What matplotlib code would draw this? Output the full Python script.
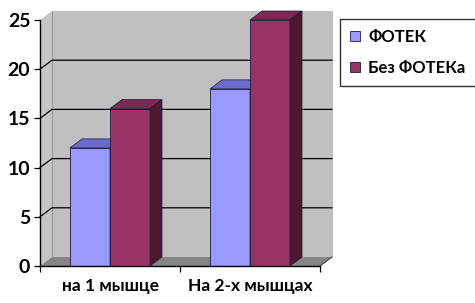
import matplotlib
matplotlib.use("Agg")
import matplotlib.pyplot as plt
from matplotlib.patches import Polygon, Rectangle, Patch
import numpy as np

categories = ["на 1 мышце", "На 2-х мышцах"]
series_names = ["ФОТЕК", "Без ФОТЕКа"]
fotek = [12, 18]
bez_fotek = [16, 25]
y_ticks = [0, 5, 10, 15, 20, 25]

plt.rcParams['font.family'] = ['Lato', 'Open Sans', 'DejaVu Sans']

W, H = 475, 303
fig = plt.figure(figsize=(W / 100, H / 100), dpi=100)
ax = fig.add_axes([40 / W, (H - 266) / H, 280 / W, 246 / H])
ax.set_xlim(0, 2)
ax.set_ylim(0, 25)
ax.set_facecolor('none')

# depth offset in data units (12 px right, 9 px up)
inv = ax.transData.inverted()
p0 = ax.transData.transform((0, 0))
d = inv.transform(p0 + np.array([12, 9])) - inv.transform(p0)
DX, DY = d

def poly(pts, fc, z, ec='none', lw=0):
    p = Polygon(pts, closed=True, facecolor=fc, edgecolor=ec, linewidth=lw,
                zorder=z, clip_on=False)
    ax.add_patch(p)

# walls
poly([(DX, DY), (2 + DX, DY), (2 + DX, 25 + DY), (DX, 25 + DY)], '#C0C0C0', 0.2)
poly([(0, 0), (DX, DY), (DX, 25 + DY), (0, 25)], '#C6C6C6', 0.2)
poly([(0, 0), (2, 0), (2 + DX, DY), (DX, DY)], '#858585', 0.3)
ax.plot([DX, DX], [DY, 25 + DY], color='#9A9A9A', lw=0.8, zorder=0.35, clip_on=False)
ax.plot([2 + DX, 2 + DX], [DY, 25 + DY], color='#B0B0B0', lw=0.6, zorder=0.35, clip_on=False)
ax.plot([2, 2 + DX], [0, DY], color='#404040', lw=0.8, zorder=0.35, clip_on=False)
for v in y_ticks[1:-1]:
    ax.plot([0, DX, 2 + DX], [v, v + DY, v + DY], color='black', lw=0.9,
            zorder=0.4, clip_on=False)

# bars
w = 0.2857
xc = np.arange(len(categories)) + 0.5
specs = [
    (xc - w, fotek, '#9999FF', '#6B6BCC', '#5252A8', 2),
    (xc, bez_fotek, '#993366', '#7A2950', '#4E1832', 3),
]
for xs, vals, face, top, side, z in specs:
    ax.bar(xs, vals, width=w, align='edge', color=face, edgecolor='#1a1a40',
           linewidth=0.6, zorder=z)
    for x, h in zip(xs, vals):
        poly([(x, h), (x + w, h), (x + w + DX, h + DY), (x + DX, h + DY)], top, z,
             ec='#1a1a30', lw=0.5)
        poly([(x + w, 0), (x + w + DX, DY), (x + w + DX, h + DY), (x + w, h)], side, z,
             ec='#1a1a30', lw=0.5)

# axes styling
for s in ['top', 'right']:
    ax.spines[s].set_visible(False)
for s in ['left', 'bottom']:
    ax.spines[s].set_color('black')
    ax.spines[s].set_linewidth(1.0)
    ax.spines[s].set_zorder(5)
ax.set_yticks(y_ticks)
ax.set_yticklabels([str(t) for t in y_ticks], fontsize=14, fontweight='bold')
ax.tick_params(axis='y', length=4, width=0.9, pad=3, colors='black')
ax.set_xticks([0, 1, 2])
ax.set_xticklabels([])
ax.set_xticks(xc, minor=True)
ax.set_xticklabels(categories, minor=True, fontsize=12.5, fontweight='bold')
ax.tick_params(axis='x', which='major', length=4, width=0.9)
ax.tick_params(axis='x', which='minor', length=0, pad=9)

handles = [Patch(facecolor='#9999FF', edgecolor='#1a1a40', linewidth=0.6),
           Patch(facecolor='#993366', edgecolor='#1a1a40', linewidth=0.6)]
leg = fig.legend(handles, series_names, loc='upper left',
                 bbox_to_anchor=(340 / W, 1 - 19 / H), frameon=True, fancybox=False,
                 edgecolor='black', prop={'size': 12, 'weight': 'bold'},
                 handlelength=0.6, handleheight=0.6, handletextpad=0.5,
                 labelspacing=0.9, borderpad=0.6, borderaxespad=0)
leg.get_frame().set_linewidth(1.0)

fig.savefig('out.png', dpi=100)
